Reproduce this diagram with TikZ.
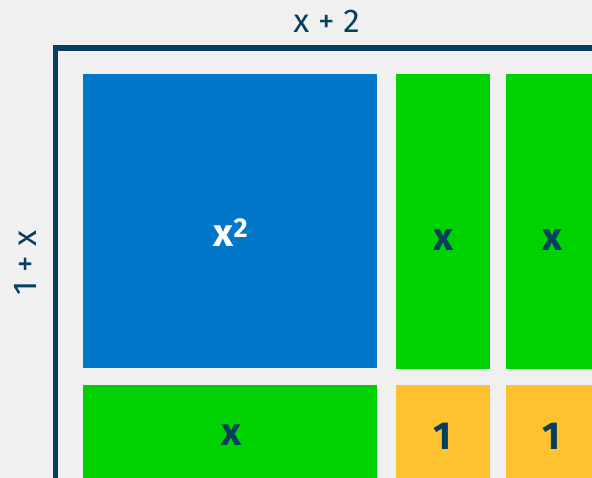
\documentclass[tikz,border=0pt]{standalone}
\usepackage{fontspec}
\setmainfont{Fira Sans}
\definecolor{bg}{HTML}{F0F0F0}
\definecolor{navy}{HTML}{073F5F}
\definecolor{tblue}{HTML}{0077C8}
\definecolor{tgreen}{HTML}{00D100}
\definecolor{tyellow}{HTML}{FEC22F}
\begin{document}
\begin{tikzpicture}[x=1pt,y=-1pt,
  tile/.style={inner sep=0pt,outer sep=0pt,anchor=north west},
  lab/.style={font=\fontsize{39}{39}\selectfont\bfseries,text=navy,anchor=base,inner sep=0pt},
  dim/.style={font=\fontsize{33}{33}\selectfont,text=navy,anchor=base,inner sep=0pt}]
\fill[bg] (0,0) rectangle (592,478);
\useasboundingbox (0,0) rectangle (592,478);
% border
\coordinate (c1) at (55.5,478);
\coordinate (c2) at (55.5,48);
\coordinate (c3) at (592,48);
\draw[navy,line width=5.5pt] (c1) -- (c2) -- (c3);
% tiles
\node[tile,fill=tblue,minimum width=294pt,minimum height=294pt] (sq) at (83,74.5) {};
\node[tile,fill=tgreen,minimum width=94pt,minimum height=294.5pt] (g1) at (396,74.5) {};
\node[tile,fill=tgreen,minimum width=94pt,minimum height=294.5pt] (g2) at (506,74.5) {};
\node[tile,fill=tgreen,minimum width=294pt,minimum height=100pt] (g3) at (83,385) {};
\node[tile,fill=tyellow,minimum width=94pt,minimum height=100pt] (y1) at (396,385) {};
\node[tile,fill=tyellow,minimum width=94pt,minimum height=100pt] (y2) at (506,385) {};
% labels
\node[lab,text=white] (t1) at (231,247) {x\textsuperscript{2}};
\node[lab] (t2) at (443,251) {x};
\node[lab] (t3) at (552,251) {x};
\node[lab] (t4) at (231,446) {x};
\node[lab] (t5) at (443,449) {1};
\node[lab] (t6) at (552,449) {1};
\node[dim] (d1) at (326.5,33) {x + 2};
\node[dim,rotate=90] (d2) at (36,263) {1 + x};
\end{tikzpicture}
\end{document}
